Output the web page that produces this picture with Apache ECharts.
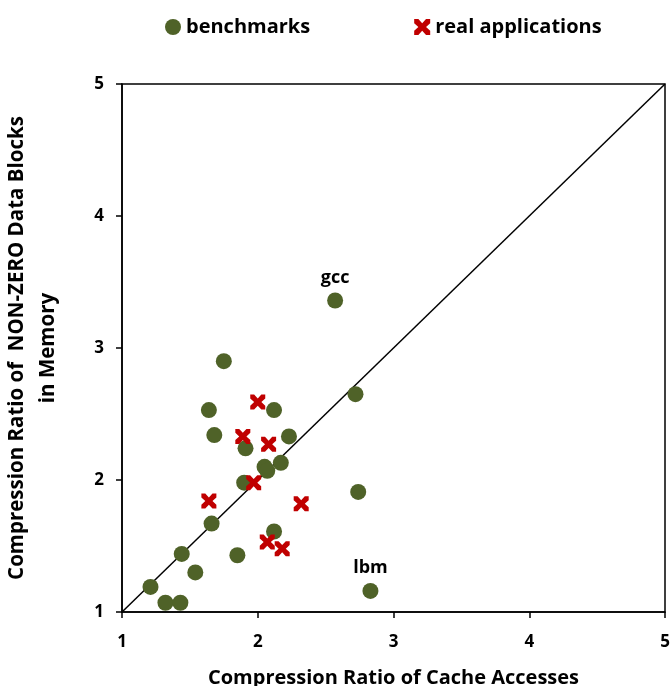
<!DOCTYPE html>
<html>
<head>
<meta charset="utf-8">
<script src="https://cdn.jsdelivr.net/npm/echarts@6/dist/echarts.min.js"></script>
<style>
  html, body { margin: 0; padding: 0; background: #fff; }
  #chart { width: 670px; height: 686px; }
</style>
</head>
<body>
<div id="chart"></div>
<script>
// values
var benchX = [1.75, 1.64, 2.12, 1.68, 2.23, 1.91, 2.72, 2.17, 2.05, 2.07, 1.90, 2.74, 1.66, 2.12, 1.44, 1.85, 1.54, 1.21, 1.32, 1.43, 2.83, 2.57];
var benchY = [2.90, 2.53, 2.53, 2.34, 2.33, 2.24, 2.65, 2.13, 2.10, 2.07, 1.98, 1.91, 1.67, 1.61, 1.44, 1.43, 1.30, 1.19, 1.07, 1.07, 1.16, 3.36];
var benchNames = ['', '', '', '', '', '', '', '', '', '', '', '', '', '', '', '', '', '', '', '', 'lbm', 'gcc'];

var realX = [2.00, 1.89, 2.08, 1.97, 1.64, 2.32, 2.07, 2.18];
var realY = [2.59, 2.33, 2.27, 1.98, 1.84, 1.82, 1.53, 1.48];

var diagX = [1, 5];
var diagY = [1, 5];

var ticks = [1, 2, 3, 4, 5];

var FONT = 'Open Sans';
var crossPath = 'path://M0,0 L2.6,0 L5,2.6 L7.4,0 L10,0 L10,2.6 L7.4,5 L10,7.4 L10,10 L7.4,10 L5,7.4 L2.6,10 L0,10 L0,7.4 L2.6,5 L0,2.6 Z';

var myChart = echarts.init(document.getElementById('chart'));

var benchData = benchX.map(function (x, i) {
  var item = { value: [x, benchY[i]] };
  if (benchNames[i]) {
    item.name = benchNames[i];
    item.label = {
      show: true,
      position: 'top',
      distance: 6,
      formatter: '{b}',
      color: '#000',
      fontFamily: FONT,
      fontWeight: 'bold',
      fontSize: 18
    };
  }
  return item;
});

var realData = realX.map(function (x, i) {
  return [x, realY[i]];
});

var axisCommon = {
  type: 'value',
  min: ticks[0],
  max: ticks[ticks.length - 1],
  interval: 1,
  axisLine: { show: true, lineStyle: { color: '#000', width: 1.5 } },
  axisTick: { show: true, length: 6, inside: false, lineStyle: { color: '#000', width: 1.5 } },
  splitLine: { show: false },
  axisLabel: { color: '#000', fontFamily: FONT, fontWeight: 'bold', fontSize: 17 },
  nameLocation: 'middle',
  nameTextStyle: { color: '#000', fontFamily: FONT, fontWeight: 'bold', fontSize: 20 }
};

var option = {
  backgroundColor: '#fff',
  animation: false,
  grid: {
    left: 122,
    right: 5,
    top: 84,
    bottom: 74,
    containLabel: false,
    outerBoundsMode: 'none',
    show: true,
    borderColor: '#000',
    borderWidth: 1.5
  },
  legend: {
    top: 12,
    left: 160,
    itemGap: 104,
    itemWidth: 16,
    itemHeight: 16,
    textStyle: { color: '#000', fontFamily: FONT, fontWeight: 'bold', fontSize: 20 },
    data: ['benchmarks', 'real applications']
  },
  xAxis: Object.assign({}, axisCommon, {
    name: 'Compression Ratio of Cache Accesses',
    nameGap: 56,
    axisLabel: Object.assign({}, axisCommon.axisLabel, { margin: 22 })
  }),
  yAxis: Object.assign({}, axisCommon, {
    name: 'Compression Ratio of  NON-ZERO Data Blocks\nin Memory',
    nameGap: 58,
    nameTextStyle: Object.assign({}, axisCommon.nameTextStyle, { fontSize: 20.5, lineHeight: 31 }),
    axisLabel: Object.assign({}, axisCommon.axisLabel, { margin: 18 })
  }),
  series: [
    {
      name: 'diagonal',
      type: 'line',
      data: diagX.map(function (x, i) { return [x, diagY[i]]; }),
      symbol: 'none',
      lineStyle: { color: '#000', width: 1.5 },
      silent: true,
      z: 1
    },
    {
      name: 'benchmarks',
      type: 'scatter',
      symbol: 'circle',
      symbolSize: 16,
      itemStyle: { color: '#4F6228', opacity: 1 },
      data: benchData,
      z: 2
    },
    {
      name: 'real applications',
      type: 'scatter',
      symbol: crossPath,
      symbolSize: 15,
      itemStyle: { color: '#C00000', opacity: 1 },
      data: realData,
      z: 3
    }
  ]
};

myChart.setOption(option);
</script>
</body>
</html>
